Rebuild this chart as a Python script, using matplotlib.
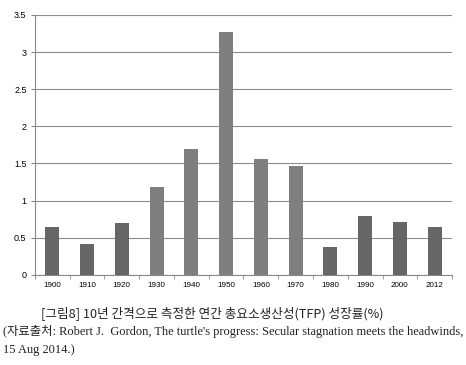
import matplotlib.pyplot as plt
import numpy as np

years = ["1900", "1910", "1920", "1930", "1940", "1950", "1960", "1970",
         "1980", "1990", "2000", "2012"]
tfp_growth = [0.65, 0.42, 0.70, 1.18, 1.69, 3.27, 1.56, 1.47, 0.38, 0.79, 0.71, 0.65]
bar_colors = ["#666666"] * 3 + ["#7f7f7f"] * 5 + ["#666666"] * 4

title = "[그림8] 10년 간격으로 측정한 연간 총요소생산성(TFP) 성장률(%)"
source_1 = "(자료출처: Robert J.  Gordon, The turtle's progress: Secular stagnation meets the headwinds,"
source_2 = "15 Aug 2014.)"


def main():
    fig = plt.figure(figsize=(4.66, 3.65), dpi=100)
    ax = fig.add_axes([0.075, 0.247, 0.895, 0.712])

    x = np.arange(len(years))
    ax.bar(x, tfp_growth, width=0.4, color=bar_colors, zorder=3)

    ax.set_xlim(-0.5, len(years) - 0.5)
    ax.set_ylim(0, 3.5)
    ax.set_yticks(np.arange(0, 3.51, 0.5))
    ax.set_yticklabels(["0", "0.5", "1", "1.5", "2", "2.5", "3", "3.5"])
    ax.set_xticks(x)
    ax.set_xticklabels(years)
    ax.set_xticks(np.arange(-0.5, len(years), 1.0), minor=True)
    ax.tick_params(axis="x", which="major", length=0, pad=5, labelsize=5.8)
    ax.tick_params(axis="x", which="minor", length=3, color="#888888", direction="out")
    ax.tick_params(axis="y", length=3, color="#888888", labelsize=6.5, pad=3)
    for lab in ax.get_xticklabels() + ax.get_yticklabels():
        lab.set_family("Liberation Sans")

    ax.grid(axis="y", color="#8c8c8c", linewidth=0.8, zorder=0)
    for side in ["top", "right"]:
        ax.spines[side].set_visible(False)
    for side in ["left", "bottom"]:
        ax.spines[side].set_color("#888888")
        ax.spines[side].set_linewidth(0.8)

    fig.text(0.455, 1 - 313 / 365, title, ha="center", va="center",
             fontsize=9.1, family=["Noto Sans CJK KR", "DejaVu Sans"], color="#222222")
    fig.text(0.006, 1 - 332 / 365, source_1, ha="left", va="center",
             fontsize=8.9, family=["Liberation Serif", "Noto Sans CJK KR"], color="#222222")
    fig.text(0.006, 1 - 350 / 365, source_2, ha="left", va="center",
             fontsize=8.9, family=["Liberation Serif", "Noto Sans CJK KR"], color="#222222")

    fig.savefig("out.png", dpi=100)


if __name__ == "__main__":
    main()
